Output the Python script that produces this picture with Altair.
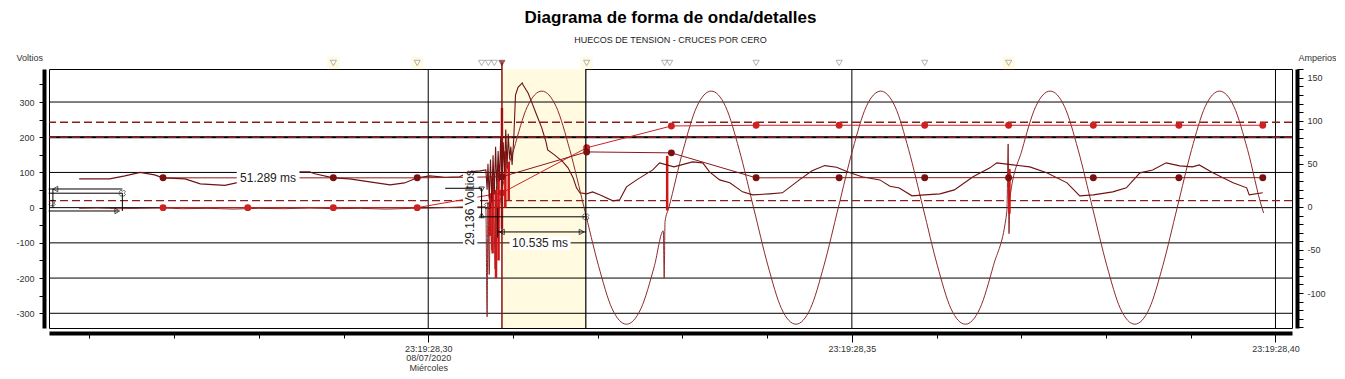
import altair as alt
import pandas as pd

# ---------------- data (time in ms after 23:19:28.000) ----------------
# voltage waveform (V)
volt_t = [258.8, 261.0, 263.5, 266.0, 268.7, 271.0, 274.0, 277.0, 280.0, 283.0, 286.0, 289.0, 292.0,
          295.0, 298.0, 300.5, 303.0, 305.0, 306.6,
          306.8, 306.95, 307.05, 307.2, 307.35, 307.5, 307.7, 307.9, 308.05, 308.2,
          308.4, 310.1, 311.7, 313.4, 315.1, 316.7, 318.4, 320.1, 321.7, 323.4, 325.1, 326.7,
          327.75, 327.85, 327.95,
          328.4, 330.1, 331.7, 333.4, 335.1, 336.7, 338.4, 340.1, 341.7, 343.4, 345.1, 346.7,
          348.4, 350.1, 351.7, 353.4, 355.1, 356.7, 358.4, 360.1, 361.7, 363.4, 365.1, 366.7,
          368.3, 368.45, 368.55, 368.65,
          370.1, 371.7, 373.4, 375.1, 376.7, 378.4, 380.1, 381.7, 383.4, 385.1, 386.7,
          388.4, 390.1, 391.7, 393.4, 395.1, 396.7, 398.4, 398.6]
volt_v = [-2, -1, -3, -2, -1, -3, -2, -4, -2, -3, -1, -3, -2,
          -4, -2, -1, 1, 3, 2,
          0, -310, 15, -190, 40, -120, 70, -175, 60, -50,
          0, 165, 287, 331, 287, 165, 0, -165, -287, -331, -287, -165,
          -66, -200, -40,
          0, 165, 287, 331, 287, 165, 0, -165, -287, -331, -287, -165,
          0, 165, 287, 331, 287, 165, 0, -165, -287, -331, -287, -165,
          -10, 181, -74, 26,
          165, 287, 331, 287, 165, 0, -165, -287, -331, -287, -165,
          0, 165, 287, 331, 287, 165, 0, -15]

# current waveform (A)
curr_t = [258.8, 262.4, 264.2, 266.0, 267.7, 268.7, 271.3, 273.1, 276.0, 278.4, 280.1, 282.5, 284.9,
          286.0, 286.6, 288.8, 290.7, 293.1, 295.5, 297.2, 298.7, 300.2, 302.0, 303.7, 304.9, 306.1, 306.8,
          306.95, 307.05, 307.2, 307.35, 307.5, 307.65, 307.8, 307.95, 308.1, 308.25, 308.4, 308.55,
          308.7, 308.85, 309.0, 309.15, 309.3, 309.45, 309.6, 309.75,
          309.9, 310.1, 310.3, 310.6, 311.1, 311.2, 311.8, 312.2, 312.8, 313.4, 313.9, 314.1, 314.9,
          315.9, 316.5, 317.1, 317.5, 317.9, 318.7,
          319.4, 320.3, 321.8, 322.6, 323.4, 324.6, 326.5, 327.3, 329.0, 331.2, 332.4, 333.2, 334.4,
          335.6, 337.1, 338.3, 340.3, 341.8, 343.8, 345.3, 346.8, 348.2, 349.7, 351.2, 353.3, 354.5,
          355.6, 357.1, 358.6, 360.4, 362.1, 364.3, 366.3, 367.1, 369.0, 371.0, 373.0, 375.4, 376.9,
          378.5, 380.8, 382.4, 384.0, 385.5, 387.1, 388.7, 390.2, 391.0, 392.6, 395.0, 396.6, 396.9, 398.5]
curr_a = [32.6, 32.6, 36.1, 40.1, 37.2, 33.8, 32.6, 26.8, 25.1, 30.3, 36.1, 39.6, 40.7,
          40.7, 38.5, 33.8, 32.6, 29.1, 25.6, 27.9, 33.8, 36.1, 34.5, 35.0, 40.7, 41.9, 43.0,
          20, 50, 10, 55, 5, 60, 15, 70, 20, 65, 30, 80,
          25, 75, 40, 90, 45, 85, 55, 70,
          48.8, 80, 130, 139, 144, 141.6, 132, 122, 106.8, 91.8, 75.5, 66.2, 60.4,
          52.3, 45.4, 33.8, 22.2, 16.4, 15.2,
          17.5, 14.0, 7.1, 8.3, 23.3, 31.4, 43.0, 51.2, 46.5, 52.3, 51.2, 40.7, 31.4,
          28.0, 17.5, 14.0, 15.2, 16.4, 31.4, 42.0, 48.0, 46.0, 40.0, 35.0, 31.4, 24.0,
          22.0, 12.9, 14.0, 15.2, 19.8, 35.0, 45.4, 51.2, 48.8, 46.5, 39.6, 28.0, 12.9,
          14.0, 17.5, 22.2, 39.6, 43.0, 51.2, 47.7, 46.5, 48.8, 39.6, 28.0, 22.2, 14.0, 16.4]

# half-cycle RMS values
rms_t = [268.7, 278.7, 288.8, 298.7, 308.7, 318.7, 328.7, 338.7, 348.5, 358.6, 368.5, 378.5, 388.6, 398.5]
rmsv_v = [0, 0, 0, 0, 42, 170, 232, 234, 234, 234, 234, 234, 234, 234]
rmsi_a = [33.8, 33.8, 33.8, 33.8, 35.0, 63.9, 62.8, 33.8, 34.0, 34.0, 34.0, 34.0, 34.0, 34.0]

# grid & thresholds
grid_v = [-300, -200, -100, 0, 100, 200, 300]
grid_t = [300, 350, 400]
thr_v = [242.5, 200, 20]

# zero-crossing markers on top
zc_t = [288.8, 298.7, 306.3, 307.1, 307.8, 308.7, 318.7, 327.9, 328.5, 338.7, 348.5, 358.6, 368.5]
zc_sel = [0, 0, 0, 0, 0, 1, 0, 0, 0, 0, 0, 0, 0]
glow_t = [288.8, 298.7, 318.7, 368.5]
top_v = 411

# red transient spikes
spk_t = [307.3, 307.6, 308.0, 308.3, 308.7, 309.1, 309.5, 328.2, 368.6]
spk_v1 = [40, 90, 50, 120, 283, 160, 130, 147, 110]
spk_v2 = [-80, -130, -200, -150, -60, 0, 20, -8, -17]

# shaded cursor window and cursors
win_t1, win_t2 = 308.7, 318.6
cur_red_t, cur_black_t = 308.7, 318.6

# measurement annotations
ann_h_t1 = [255.2, 255.2, 255.2, 302.0, 306.1, 308.2]
ann_h_t2 = [263.9, 263.9, 263.4, 306.3, 318.6, 318.6]
ann_h_v = [53, 41, -9.5, 55, -26, -69]
ann_v_t = [255.7, 263.9, 306.3, 308.2]
ann_v_v1 = [53, 41, 55, 0]
ann_v_v2 = [0, -9.5, -29, -85]
ann_tri_t = [256.0, 263.3, 308.7, 318.1, 306.3, 306.3]
ann_tri_v = [53, -9.5, -69, -69, 52, -22]
ann_tri_s = ["triangle-left", "triangle-right", "triangle-left", "triangle-right", "triangle-down", "triangle-up"]
ann_x_t = [263.9, 255.6, 318.6, 307.0]
ann_x_v = [41, 13, -26, 5]

lbl_text = ["51.289 ms", "10.535 ms", "29.136 Voltios"]
lbl_t = [281.1, 313.2, 304.9]
lbl_v = [84, -100, 0]
lbl_angle = [0, 0, 270]
bg_t1 = [277.4, 309.6, 304.1]
bg_t2 = [284.8, 316.8, 305.8]
bg_v1 = [104, -82, -114]
bg_v2 = [64, -120, 98]

# ---------------- scales & axes ----------------
FONT = "Liberation Sans"
xscale = alt.Scale(domain=[255.24, 401.95], nice=False, zero=False)
vscale = alt.Scale(domain=[-341.8, 393.8], nice=False, zero=False)
ascale = alt.Scale(domain=[-140.6, 160.2], nice=False, zero=False)

xaxis = alt.Axis(
    values=list(range(260, 401, 10)),
    labelExpr="datum.value == 300 ? ['23:19:28,30', '08/07/2020', 'Miércoles'] : "
              "datum.value == 350 ? '23:19:28,35' : datum.value == 400 ? '23:19:28,40' : ''",
    grid=False, domainWidth=4, domainColor="black", tickColor="black",
    tickSize={"condition": {"test": "datum.value % 50 === 0", "value": 9}, "value": 5},
    labelFont=FONT, labelFontSize=9, labelColor="#333", labelPadding=2,
    labelLineHeight=9.5, labelOverlap=False, labelFlush=False, offset=5, title=None,
)
vaxis = alt.Axis(
    orient="left", values=list(range(-300, 351, 50)),
    labelExpr="datum.value % 100 === 0 ? '' + datum.value : ''",
    grid=False, domainWidth=4, domainColor="black", tickColor="black", tickSize=5,
    labelFont=FONT, labelFontSize=9, labelColor="#333", labelPadding=5, labelOverlap=False,
    offset=5, title="Voltios", titleAngle=0, titleX=-28, titleY=-9, titleAlign="left",
    titleBaseline="alphabetic", titleFont=FONT, titleFontSize=9, titleFontWeight="normal",
    titleColor="#333",
)
aaxis = alt.Axis(
    orient="right", values=list(range(-140, 161, 10)),
    labelExpr="datum.value % 50 === 0 ? '' + datum.value : ''",
    grid=False, domainWidth=4, domainColor="black", tickColor="black", tickSize=6,
    labelFont=FONT, labelFontSize=9, labelColor="#333", labelPadding=4, labelOverlap=False,
    offset=5, title="Amperios", titleAngle=0, titleX=1, titleY=-9, titleAlign="left",
    titleBaseline="alphabetic", titleFont=FONT, titleFontSize=9, titleFontWeight="normal",
    titleColor="#333",
)


def X(f="t"):
    return alt.X(f"{f}:Q", scale=xscale, axis=xaxis, title=None)


def YV(f="v"):
    return alt.Y(f"{f}:Q", scale=vscale, axis=vaxis, title="Voltios")


def YA(f="a"):
    return alt.Y(f"{f}:Q", scale=ascale, axis=aaxis, title="Amperios")


def YN(f="v"):
    return alt.Y(f"{f}:Q", scale=vscale, axis=None)


# ---------------- data frames ----------------
df_volt = pd.DataFrame({"t": volt_t, "v": volt_v})
df_curr = pd.DataFrame({"t": curr_t, "a": curr_a})
df_rmsv = pd.DataFrame({"t": rms_t, "v": rmsv_v})
df_rmsi = pd.DataFrame({"t": rms_t, "a": rmsi_a})
df_gv = pd.DataFrame({"v": grid_v})
df_gt = pd.DataFrame({"t": grid_t})
df_thr = pd.DataFrame({"v": thr_v})
df_zc = pd.DataFrame({"t": zc_t, "v": [top_v] * len(zc_t), "sel": zc_sel})
df_glow = pd.DataFrame({"t": glow_t, "v": [top_v] * len(glow_t)})
df_spk = pd.DataFrame({"t": spk_t, "v": spk_v1, "v2": spk_v2})
df_win = pd.DataFrame({"t": [win_t1], "t2": [win_t2]})
df_cred = pd.DataFrame({"t": [cur_red_t], "v": [top_v], "v2": [-341.8]})
df_cblk = pd.DataFrame({"t": [cur_black_t]})
df_ah = pd.DataFrame({"t": ann_h_t1, "t2": ann_h_t2, "v": ann_h_v})
df_av = pd.DataFrame({"t": ann_v_t, "v": ann_v_v1, "v2": ann_v_v2})
df_atri = pd.DataFrame({"t": ann_tri_t, "v": ann_tri_v, "s": ann_tri_s})
df_ax = pd.DataFrame({"t": ann_x_t, "v": ann_x_v})
df_lbl = pd.DataFrame({"t": lbl_t, "v": lbl_v, "txt": lbl_text, "ang": lbl_angle})
df_bg = pd.DataFrame({"t": bg_t1, "t2": bg_t2, "v": bg_v1, "v2": bg_v2})

DARK = "#6E1212"
SINE = "#8E2B2B"
RED = "#CC2222"

# ---------------- voltage group ----------------
shade = alt.Chart(df_win).mark_rect(color="#FFFAE0").encode(x=X(), x2="t2:Q")
glow = alt.Chart(df_glow).mark_square(color="#FFFAE3", size=150, opacity=1).encode(x=X(), y=YV())
gridh = alt.Chart(df_gv).mark_rule(color="black", strokeWidth=1).encode(y=YV())
gridt = alt.Chart(df_gt).mark_rule(color="black", strokeWidth=1).encode(x=X())
line200 = alt.Chart(pd.DataFrame({"v": [200]})).mark_rule(color="black", strokeWidth=2).encode(y=YV())
thr = alt.Chart(df_thr).mark_rule(color="#8B1E1E", strokeWidth=1.4, strokeDash=[8, 4]).encode(y=YV())
vline = alt.Chart(df_volt).mark_line(color=SINE, strokeWidth=1, interpolate="monotone").encode(
    x=X(), y=YV(), order="t:Q")
rmsv_line = alt.Chart(df_rmsv).mark_line(color=RED, strokeWidth=1).encode(x=X(), y=YV())
rmsv_pts = alt.Chart(df_rmsv).mark_circle(color=RED, size=48, opacity=1).encode(x=X(), y=YV())
spikes = alt.Chart(df_spk).mark_rule(color="#D01515", strokeWidth=2.5).encode(x=X(), y=YV(), y2="v2:Q")
cred = alt.Chart(df_cred).mark_rule(color="#8B1010", strokeWidth=1.5).encode(x=X(), y=YV(), y2="v2:Q")
cblk = alt.Chart(df_cblk).mark_rule(color="black", strokeWidth=1.2).encode(x=X())
zc = alt.Chart(df_zc).mark_point(shape="triangle-down", size=38, filled=True, strokeWidth=0.8).encode(
    x=X(), y=YV(),
    fill=alt.condition("datum.sel == 1", alt.value("#6B0F0F"), alt.value("white")),
    stroke=alt.condition("datum.sel == 1", alt.value("#6B0F0F"), alt.value("#777777")),
)
vgroup = alt.layer(shade, glow, gridh, gridt, line200, thr, vline, rmsv_line, rmsv_pts, spikes, cred, cblk, zc)

# ---------------- current group ----------------
iline = alt.Chart(df_curr).mark_line(color=DARK, strokeWidth=1.1).encode(x=X(), y=YA(), order="t:Q")
rmsi_line = alt.Chart(df_rmsi).mark_line(color="#8B1A1A", strokeWidth=1).encode(x=X(), y=YA())
rmsi_pts = alt.Chart(df_rmsi).mark_circle(color="#7A1010", size=48, opacity=1).encode(x=X(), y=YA())
igroup = alt.layer(iline, rmsi_line, rmsi_pts)

# ---------------- annotation group ----------------
bg = alt.Chart(df_bg).mark_rect(color="white").encode(x=X(), x2="t2:Q", y=YN(), y2="v2:Q")
ah = alt.Chart(df_ah).mark_rule(color="black", strokeWidth=1).encode(x=X(), x2="t2:Q", y=YN())
av = alt.Chart(df_av).mark_rule(color="black", strokeWidth=1).encode(x=X(), y=YN(), y2="v2:Q")
atri = alt.Chart(df_atri).mark_point(size=30, filled=False, color="black", strokeWidth=1).encode(
    x=X(), y=YN(), shape=alt.Shape("s:N", scale=None, legend=None))
ax_ = alt.Chart(df_ax).mark_point(shape="cross", size=40, filled=False, color="black",
                                  strokeWidth=0.8, angle=45).encode(x=X(), y=YN())
lbl = alt.Chart(df_lbl).mark_text(font=FONT, fontSize=12, color="#222", align="center",
                                  baseline="middle").encode(
    x=X(), y=YN(), text="txt:N", angle=alt.Angle("ang:Q", scale=None))
agroup = alt.layer(bg, ah, av, atri, ax_, lbl)

chart = (
    alt.layer(vgroup, igroup, agroup)
    .resolve_scale(y="independent")
    .properties(
        width=1243, height=259,
        padding={"left": 41, "top": 61, "right": 44, "bottom": 43},
        autosize="none",
        background="white",
        title=alt.TitleParams(
            text="Diagrama de forma de onda/detalles",
            subtitle="HUECOS DE TENSION - CRUCES POR CERO",
            font=FONT, fontSize=17, fontWeight="bold", color="black",
            subtitleFont=FONT, subtitleFontSize=9, subtitleColor="#222",
            anchor="middle", frame="group", offset=7, subtitlePadding=9,
        ),
    )
    .configure_view(stroke="black", strokeWidth=1, fill="white")
)

chart.save("out.html", embed_options={"renderer": "svg", "actions": False})
